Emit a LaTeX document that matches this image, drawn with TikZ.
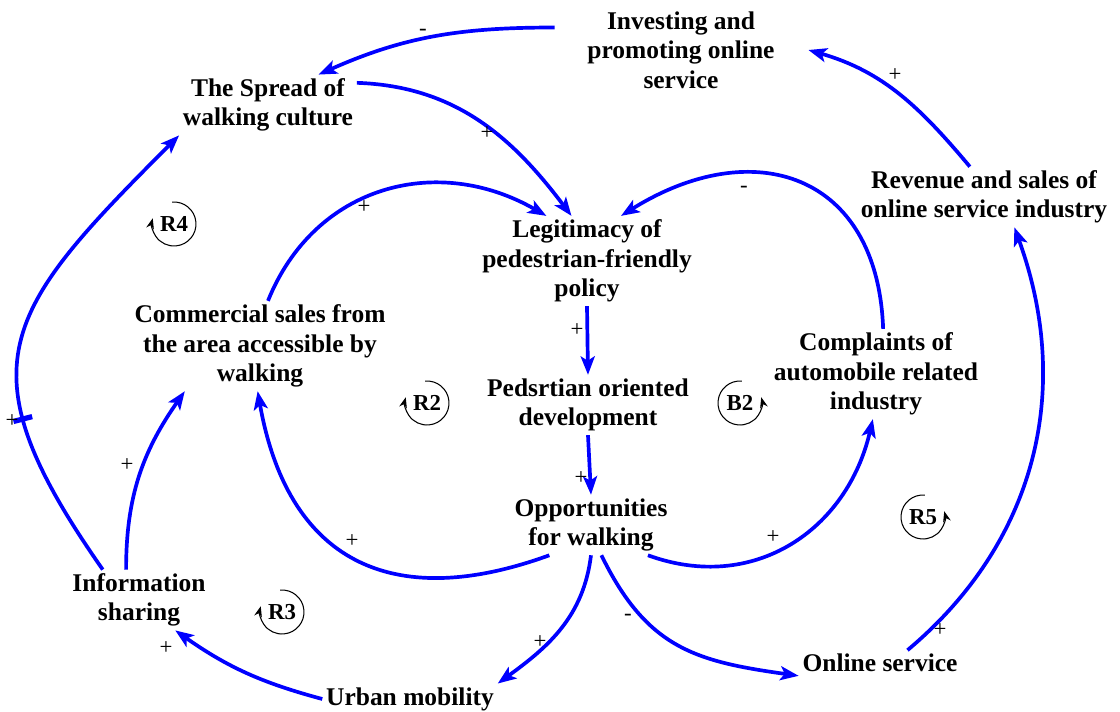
\documentclass[tikz,border=0pt]{standalone}
\usepackage{fontspec}
\setmainfont{Liberation Serif}
\usetikzlibrary{arrows.meta}

\begin{document}
\begin{tikzpicture}[x=0.02cm, y=0.02cm]
  \tikzstyle{var}=[align=center, inner sep=2pt, font=\fontsize{14.5}{16.8}\selectfont\bfseries]
  \tikzstyle{link}=[blue, line width=2.1pt, -{Stealth[length=10.5pt, width=8pt, inset=2.5pt]}]
  \tikzstyle{sign}=[inner sep=0pt, font=\fontsize{13}{13}\selectfont]
  \tikzstyle{loopname}=[inner sep=0pt, font=\fontsize{13}{13}\selectfont\bfseries]
  \tikzstyle{looparc}=[black, line width=0.6pt, -{Stealth[length=6pt, width=4.5pt]}]
  \tikzstyle{delaybar}=[fill=blue, inner sep=0pt, minimum width=3pt, minimum height=11pt]

  \useasboundingbox (0,0) rectangle (1120,-712);

  % Variables
  \node[var] (invest) at (681,-50) {Investing and\\promoting online\\service};
  \node[var] (spread) at (268,-105) {The Spread of\\walking culture};
  \node[var] (legit) at (587,-261) {Legitimacy of\\pedestrian-friendly\\policy};
  \node[var] (revenue) at (984,-197) {Revenue and sales of\\online service industry};
  \node[var] (commercial) at (260,-346) {Commercial sales from\\the area accessible by\\walking};
  \node[var] (ped) at (588,-405) {Pedsrtian oriented\\development};
  \node[var] (complaints) at (876,-374) {Complaints of\\automobile related\\industry};
  \node[var] (opp) at (591,-525) {Opportunities\\for walking};
  \node[var] (info) at (139,-600) {Information\\sharing};
  \node[var] (urban) at (410,-699) {Urban mobility};
  \node[var] (online) at (880,-663) {Online service};

  % Loops
  \node[loopname] (r4) at (174,-224) {R4};
  \draw[looparc] (r4.center) ++(95:22) arc[start angle=95, end angle=-195, radius=22];
  \node[loopname] (r2) at (427,-403) {R2};
  \draw[looparc] (r2.center) ++(95:22) arc[start angle=95, end angle=-195, radius=22];
  \node[loopname] (r3) at (282,-612) {R3};
  \draw[looparc] (r3.center) ++(95:22) arc[start angle=95, end angle=-195, radius=22];
  \node[loopname] (b2) at (740,-403) {B2};
  \draw[looparc] (b2.center) ++(85:22) arc[start angle=85, end angle=375, radius=22];
  \node[loopname] (r5) at (923,-517) {R5};
  \draw[looparc] (r5.center) ++(85:22) arc[start angle=85, end angle=375, radius=22];

  % Links
  \draw[link] ([xshift=-0.58cm]invest.167) to[out=180, in=24] (spread.31);
  \draw[link] (spread.14) to[out=-2, in=127] (legit.109);
  \draw[link] (commercial.80) to[out=68, in=150, looseness=1.1] (legit.132);
  \draw[link] (legit.south) -- (ped.north);
  \draw[link] (ped.south) -- (opp.north);
  \draw[link] (opp.216) to[out=200, in=-80, looseness=1.3] (commercial.267);
  \draw[link] (opp.-28) to[out=-20, in=-103, looseness=1.1] (complaints.266);
  \draw[link] (complaints.81) to[out=92, in=32, looseness=1.4] (legit.53);
  \draw[link] (opp.south) to[out=-97, in=36] (urban.north east);
  \draw[link] (opp.-71) to[out=-64, in=172, looseness=1.15] (online.south west);
  \draw[link] (urban.west) to[out=165, in=-35] (info.-40);
  \draw[link] (info.113) to[out=90, in=-125] (commercial.211);
  \draw[link] (info.140) to[out=125, in=-135, looseness=1.45] node[pos=.3, sloped, delaybar] (d1) {} (spread.south west);
  \draw[link] (online.25) to[out=40, in=-70] (revenue.-45);
  \draw[link] (revenue.115) to[out=130, in=-16] ([xshift=0.6cm]invest.east);

  % Polarities
  \node[sign] (p1) at (423,-32) {-};
  \node[sign] (p2) at (487,-133) {+};
  \node[sign] (p3) at (364,-207) {+};
  \node[sign] (p4) at (577,-330) {+};
  \node[sign] (p5) at (581,-478) {+};
  \node[sign] (p6) at (352,-541) {+};
  \node[sign] (p7) at (773,-537) {+};
  \node[sign] (p8) at (744,-189) {-};
  \node[sign] (p9) at (540,-642) {+};
  \node[sign] (p10) at (628,-617) {-};
  \node[sign] (p11) at (166,-648) {+};
  \node[sign] (p12) at (127,-465) {+};
  \node[sign] (p13) at (12,-421) {+};
  \node[sign] (p14) at (940,-630) {+};
  \node[sign] (p15) at (895,-75) {+};
\end{tikzpicture}
\end{document}
